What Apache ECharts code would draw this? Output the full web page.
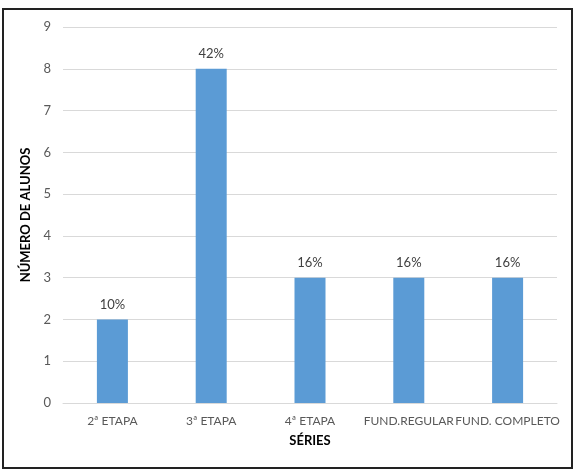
<!DOCTYPE html>
<html>
<head>
<meta charset="utf-8">
<script src="https://cdn.jsdelivr.net/npm/echarts@6/dist/echarts.min.js"></script>
<style>
    html, body { margin: 0; padding: 0; background: #fff; }
    #chart { width: 577px; height: 470px; }
</style>
</head>
<body>
<div id="chart"></div>
<script>
var categories = ['2ª ETAPA', '3ª ETAPA', '4ª ETAPA', 'FUND.REGULAR', 'FUND. COMPLETO'];
var alunos = [2, 8, 3, 3, 3];
var percentuais = ['10%', '42%', '16%', '16%', '16%'];

var chart = echarts.init(document.getElementById('chart'));
var option = {
    textStyle: { fontFamily: 'Lato' },
    graphic: [
        {
            type: 'rect',
            shape: { x: 3, y: 9, width: 569, height: 459 },
            style: { fill: 'none', stroke: '#222', lineWidth: 2 },
            silent: true
        }
    ],
    grid: { left: 63, right: 20, top: 27, bottom: 67 },
    xAxis: {
        type: 'category',
        data: categories,
        name: 'SÉRIES',
        nameLocation: 'middle',
        nameGap: 31,
        nameTextStyle: { fontWeight: 'bold', fontSize: 13, color: '#000' },
        axisTick: { show: false },
        axisLine: { lineStyle: { color: '#d9d9d9' } },
        axisLabel: { color: '#595959', fontSize: 12, margin: 12, interval: 0 }
    },
    yAxis: {
        type: 'value',
        min: 0,
        max: 9,
        interval: 1,
        name: 'NÚMERO DE ALUNOS',
        nameLocation: 'middle',
        nameGap: 27,
        nameTextStyle: { fontWeight: 'bold', fontSize: 13, color: '#000' },
        axisLine: { show: false },
        axisTick: { show: false },
        axisLabel: { color: '#595959', fontSize: 13, margin: 12 },
        splitLine: { lineStyle: { color: '#d9d9d9' } }
    },
    series: [
        {
            type: 'bar',
            data: alunos,
            barWidth: 31,
            itemStyle: { color: '#5b9bd5' },
            label: {
                show: true,
                position: 'top',
                distance: 8,
                color: '#404040',
                fontSize: 13,
                formatter: function (p) { return percentuais[p.dataIndex]; }
            }
        }
    ]
};
chart.setOption(option);
</script>
</body>
</html>
